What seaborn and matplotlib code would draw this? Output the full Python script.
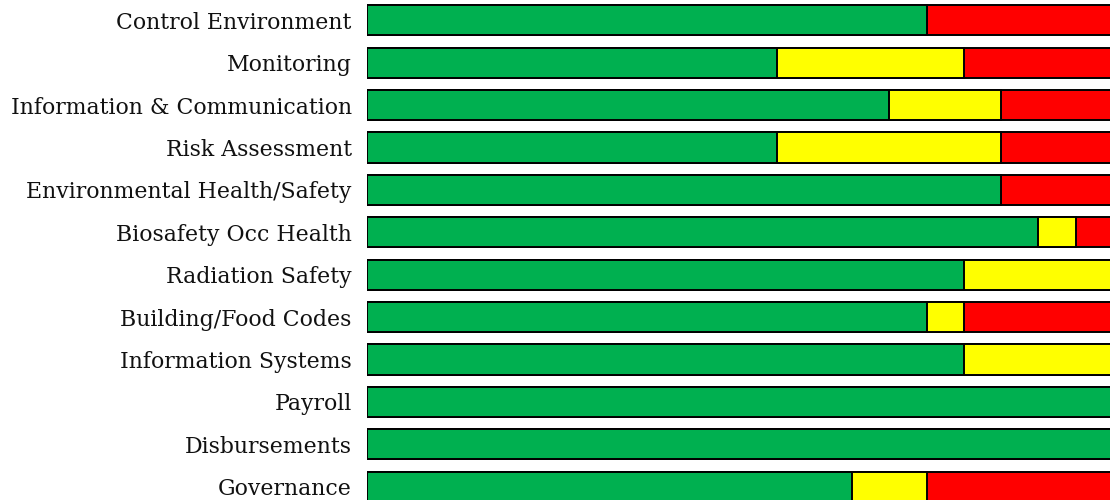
import matplotlib
matplotlib.use("Agg")
import matplotlib.pyplot as plt
import seaborn as sns
import pandas as pd

# Audit areas and rating shares (percent of items)
areas = ["Control Environment", "Monitoring", "Information & Communication",
         "Risk Assessment", "Environmental Health/Safety", "Biosafety Occ Health",
         "Radiation Safety", "Building/Food Codes", "Information Systems",
         "Payroll", "Disbursements", "Governance"]
green = [75, 55, 70, 55, 85, 90, 80, 75, 80, 100, 100, 65]
yellow = [0, 25, 15, 30, 0, 5, 20, 5, 20, 0, 0, 10]
red = [25, 20, 15, 15, 15, 5, 0, 20, 0, 0, 0, 25]

df = pd.DataFrame({"Area": areas, "Green": green, "Yellow": yellow, "Red": red})
df["GY"] = df["Green"] + df["Yellow"]
df["Total"] = df["GY"] + df["Red"]

sns.set_style("white")
plt.rcParams["font.family"] = ["DejaVu Serif"]

fig = plt.figure(figsize=(11.1, 5.0), dpi=100)
ax = fig.add_axes([367 / 1110, -0.016, 746 / 1110, 1.018])

kw = dict(y="Area", data=df, orient="h", width=0.71, edgecolor="black",
          linewidth=1.4, ax=ax)
sns.barplot(x="Total", color="#FF0000", saturation=1, **kw)
sns.barplot(x="GY", color="#FFFF00", saturation=1, **kw)
sns.barplot(x="Green", color="#00B050", saturation=1, **kw)

ax.set_xlim(0, 100)
ax.set_ylim(11.5, -0.5)
ax.set_xlabel("")
ax.set_ylabel("")
ax.set_xticks([])
ax.tick_params(axis="y", length=0, pad=11, labelsize=15.8, labelcolor="#111111")
sns.despine(ax=ax, left=True, bottom=True, top=True, right=True)

fig.savefig("out.png", dpi=100)
